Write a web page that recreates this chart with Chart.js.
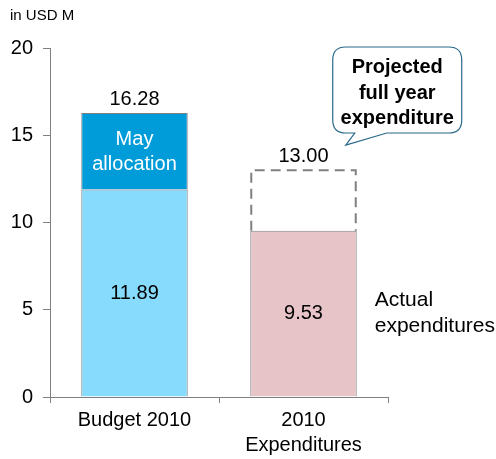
<!DOCTYPE html>
<html>
<head>
<meta charset="utf-8">
<script src="https://cdn.jsdelivr.net/npm/chart.js@4"></script>
<style>
  html, body { margin: 0; padding: 0; background: #fff; }
  #wrap { width: 496px; height: 459px; position: relative; }
</style>
</head>
<body>
<div id="wrap"><canvas id="chart"></canvas></div>
<script>
// Data
const categories = [['Budget 2010'], ['2010', 'Expenditures']];
const baseValues = [11.89, 9.53];
const mayAllocation = [4.39, 0];
const projectedRemainder = [0, 3.47];
const totalLabels = ['16.28', '13.00'];
const baseLabels = ['11.89', '9.53'];
const yTicks = [0, 5, 10, 15, 20];

const FONT = '"Liberation Sans", Arial, sans-serif';
const GREY = '#808080';

// Annotation drawing
const annotations = {
    id: 'annotations',
    afterDatasetsDraw(chart) {
        const ctx = chart.ctx;
        const baseMeta = chart.getDatasetMeta(0);
        const mayMeta = chart.getDatasetMeta(1);
        const projMeta = chart.getDatasetMeta(2);
        const yScale = chart.scales.y;

        ctx.save();

        // dashed outline for projected part
        const p = projMeta.data[1];
        const left = p.x - p.width / 2 + 1, right = p.x + p.width / 2 - 1;
        ctx.strokeStyle = GREY;
        ctx.lineWidth = 2;
        ctx.setLineDash([10, 6]);
        ctx.beginPath();
        ctx.moveTo(left, p.base);
        ctx.lineTo(left, p.y);
        ctx.lineTo(right, p.y);
        ctx.lineTo(right, p.base);
        ctx.stroke();
        ctx.setLineDash([]);

        // value labels
        ctx.fillStyle = '#000';
        ctx.font = '20px ' + FONT;
        ctx.textAlign = 'center';
        ctx.textBaseline = 'alphabetic';
        const topY = [mayMeta.data[0].y, p.y];
        topY.forEach((y, i) => {
            ctx.fillText(totalLabels[i], baseMeta.data[i].x, y - 8);
        });
        ctx.textBaseline = 'middle';
        baseMeta.data.forEach((bar, i) => {
            ctx.fillText(baseLabels[i], bar.x, (bar.y + bar.base) / 2);
        });

        // May allocation
        const m = mayMeta.data[0];
        const mc = (m.y + m.base) / 2;
        ctx.fillStyle = '#fff';
        ctx.fillText('May', m.x, mc - 12);
        ctx.fillText('allocation', m.x, mc + 13);

        // Actual expenditures
        const b = baseMeta.data[1];
        const bc = (b.y + b.base) / 2;
        ctx.fillStyle = '#000';
        ctx.font = '21px ' + FONT;
        ctx.textAlign = 'left';
        ctx.fillText('Actual', b.x + b.width / 2 + 18, bc - 13);
        ctx.fillText('expenditures', b.x + b.width / 2 + 18, bc + 13);

        // callout
        const cx0 = right - 23, cx1 = right + 106;
        const cy0 = yScale.getPixelForValue(20) - 1, cy1 = cy0 + 86;
        const r = 13;
        const tipX = right - 10, tipY = p.y - 25;
        ctx.strokeStyle = '#2b6a8a';
        ctx.lineWidth = 1.2;
        ctx.fillStyle = '#fff';
        ctx.beginPath();
        ctx.moveTo(cx0 + r, cy0);
        ctx.lineTo(cx1 - r, cy0);
        ctx.quadraticCurveTo(cx1, cy0, cx1, cy0 + r);
        ctx.lineTo(cx1, cy1 - r);
        ctx.quadraticCurveTo(cx1, cy1, cx1 - r, cy1);
        ctx.lineTo(cx0 + 54, cy1);
        ctx.lineTo(tipX, tipY);
        ctx.lineTo(cx0 + 22, cy1);
        ctx.lineTo(cx0 + r, cy1);
        ctx.quadraticCurveTo(cx0, cy1, cx0, cy1 - r);
        ctx.lineTo(cx0, cy0 + r);
        ctx.quadraticCurveTo(cx0, cy0, cx0 + r, cy0);
        ctx.closePath();
        ctx.fill();
        ctx.stroke();

        ctx.fillStyle = '#000';
        ctx.font = 'bold 20px ' + FONT;
        ctx.textAlign = 'center';
        ctx.textBaseline = 'alphabetic';
        const tx = (cx0 + cx1) / 2;
        ctx.fillText('Projected', tx, cy0 + 26);
        ctx.fillText('full year', tx, cy0 + 52);
        ctx.fillText('expenditure', tx, cy0 + 77);

        // unit label
        ctx.font = '15px ' + FONT;
        ctx.textAlign = 'left';
        ctx.fillText('in USD M', 10, 20);

        ctx.restore();
    }
};

const ctx = document.getElementById('chart').getContext('2d');
const chart = new Chart(ctx, {
    type: 'bar',
    data: {
        labels: categories,
        datasets: [
            {
                label: 'Base',
                data: baseValues,
                backgroundColor: ['#87dcfd', '#e6c4c8'],
                borderColor: GREY,
                borderWidth: 1
            },
            {
                label: 'May allocation',
                data: mayAllocation,
                backgroundColor: '#009bd9',
                borderColor: GREY,
                borderWidth: 1
            },
            {
                label: 'Projected',
                data: projectedRemainder,
                backgroundColor: 'rgba(0,0,0,0)',
                borderWidth: 0
            }
        ]
    },
    options: {
        responsive: true,
        maintainAspectRatio: false,
        animation: false,
        devicePixelRatio: 1,
        layout: {
            padding: { top: 48, right: 108, left: 0, bottom: 0 }
        },
        datasets: {
            bar: {
                categoryPercentage: 1,
                barPercentage: 0.63
            }
        },
        plugins: {
            legend: { display: false },
            tooltip: { enabled: false }
        },
        scales: {
            x: {
                stacked: true,
                border: { color: GREY, width: 1 },
                grid: {
                    drawOnChartArea: false,
                    color: GREY,
                    tickLength: 6
                },
                ticks: {
                    color: '#000',
                    padding: 5,
                    font: { family: FONT, size: 20, lineHeight: 1.25 },
                    maxRotation: 0
                },
                afterFit(scale) { scale.height = 62; }
            },
            y: {
                stacked: true,
                min: 0,
                max: 20,
                border: { color: GREY, width: 1 },
                grid: {
                    drawOnChartArea: false,
                    color: GREY,
                    tickLength: 7
                },
                afterBuildTicks(scale) {
                    scale.ticks = yTicks.map(v => ({ value: v }));
                },
                ticks: {
                    color: '#000',
                    padding: 10,
                    font: { family: FONT, size: 20 }
                },
                afterFit(scale) { scale.width = 50; }
            }
        }
    },
    plugins: [annotations]
});
</script>
</body>
</html>
